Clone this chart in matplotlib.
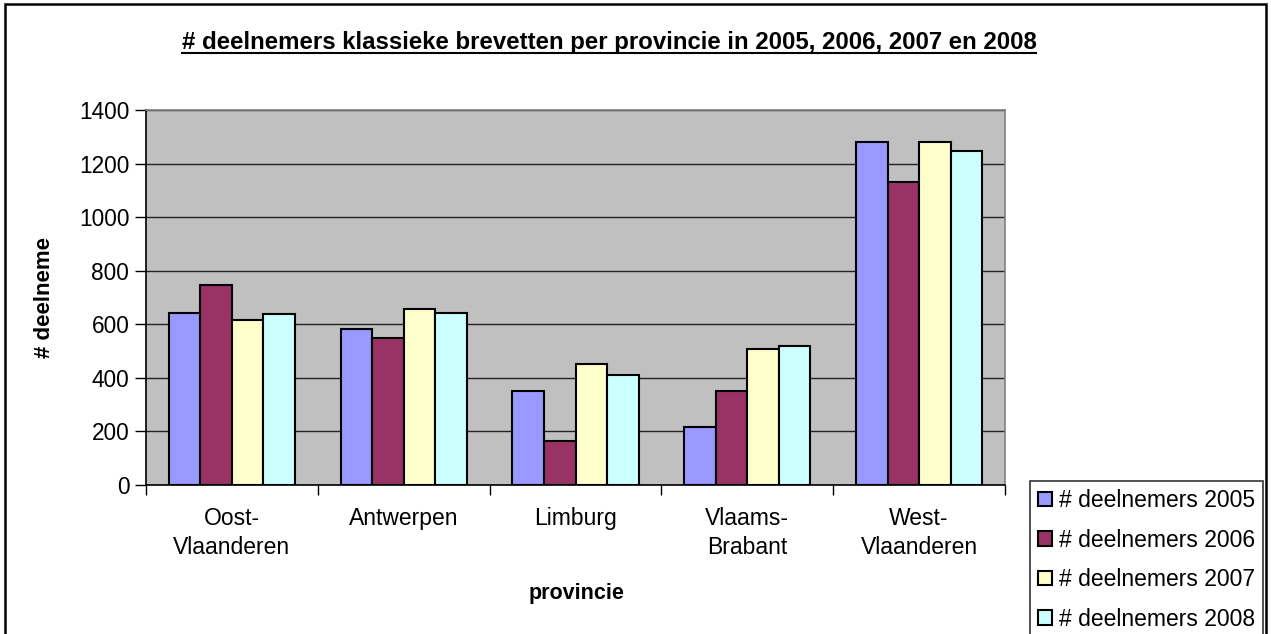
import matplotlib
matplotlib.use("Agg")
import matplotlib.pyplot as plt
from matplotlib.patches import Rectangle
from matplotlib.lines import Line2D
import numpy as np

plt.rcParams['font.family'] = ['Liberation Sans', 'DejaVu Sans']

# -----------------------------------------------------------
# data
# -----------------------------------------------------------
provincies = ["Oost-\nVlaanderen", "Antwerpen", "Limburg", "Vlaams-\nBrabant", "West-\nVlaanderen"]
jaren = ["# deelnemers 2005", "# deelnemers 2006", "# deelnemers 2007", "# deelnemers 2008"]
d2005 = [644, 582, 350, 218, 1280]
d2006 = [746, 548, 165, 350, 1131]
d2007 = [616, 657, 451, 509, 1280]
d2008 = [637, 644, 410, 520, 1246]
reeksen = [d2005, d2006, d2007, d2008]
kleuren = ["#9999FF", "#993366", "#FFFFCC", "#CCFFFF"]
yticks = [0, 200, 400, 600, 800, 1000, 1200, 1400]

W, H = 1271, 634
fig = plt.figure(figsize=(W / 100, H / 100), dpi=100)
ax = fig.add_axes([146 / W, 1 - 485 / H, (1005 - 146) / W, (485 - 110) / H])
ax.set_facecolor("#C0C0C0")

x = np.arange(len(provincies))
bw = 0.1835
for j, (vals, kl, lab) in enumerate(zip(reeksen, kleuren, jaren)):
    ax.bar(x + (j - 1.5) * bw, vals, bw, color=kl, edgecolor="black",
           linewidth=1.5, label=lab, zorder=3)

ax.set_xlim(-0.5, len(provincies) - 0.5)
ax.set_ylim(0, 1400)
ax.set_yticks(yticks)
ax.set_yticklabels([str(v) for v in yticks], fontsize=16.3)
ax.yaxis.grid(True, color="#222222", linewidth=1.0, zorder=1)
ax.set_axisbelow(True)

ax.set_xticks(x)
ax.set_xticklabels(provincies, fontsize=16.5, linespacing=1.3)
ax.tick_params(axis="x", which="major", length=0, pad=16)
ax.set_xticks(np.arange(len(provincies) + 1) - 0.5, minor=True)
ax.tick_params(axis="x", which="minor", length=7, width=1, direction="out")
ax.tick_params(axis="y", length=8, width=1, direction="out", pad=4)

for s in ["top", "right"]:
    ax.spines[s].set_color("#808080")
    ax.spines[s].set_linewidth(1.2)
for s in ["left", "bottom"]:
    ax.spines[s].set_color("black")
    ax.spines[s].set_linewidth(1.2)

# labels
fig.text(577 / W, 1 - 593 / H, "provincie", fontsize=15.5, fontweight="bold",
         ha="center", va="center")
fig.text(45 / W, 1 - 297 / H, "# deelneme", fontsize=16, fontweight="bold",
         ha="center", va="center", rotation=90)

titel = fig.text(609 / W, 1 - 42 / H,
                 "# deelnemers klassieke brevetten per provincie in 2005, 2006, 2007 en 2008",
                 fontsize=17.3, fontweight="bold", ha="center", va="center")

# legend (partly outside the frame, like the original)
leg = fig.legend(loc="upper left", bbox_to_anchor=(1030 / W, 1 - 481 / H),
                 fontsize=16.5, frameon=True, fancybox=False, edgecolor="black",
                 handlelength=0.6, handleheight=0.6, handletextpad=0.3,
                 labelspacing=0.72, borderpad=0.35, borderaxespad=0)
leg.get_frame().set_linewidth(1.2)

# outer chart frame
fig.patches.append(Rectangle((5 / W, -0.05), (1266 - 5) / W, 1.05 - 4 / H,
                             transform=fig.transFigure, fill=False,
                             edgecolor="black", linewidth=1.8))

# underline the title
fig.canvas.draw()
bb = titel.get_window_extent().transformed(fig.transFigure.inverted())
fig.lines.append(Line2D([bb.x0, bb.x1], [bb.y0 + 0.001, bb.y0 + 0.001],
                        transform=fig.transFigure, color="black", linewidth=1.5))

fig.savefig("out.png", dpi=100)
